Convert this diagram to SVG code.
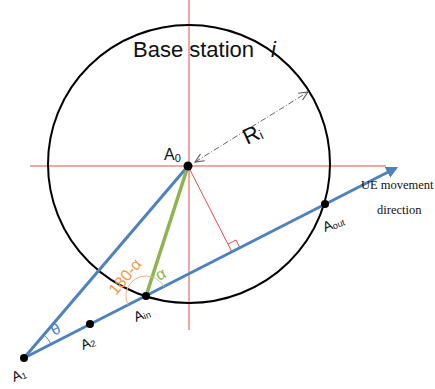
<svg xmlns="http://www.w3.org/2000/svg" width="435" height="389" viewBox="0 0 435 389">
<defs>
<style>
.red{stroke:#e0504a;stroke-width:1;fill:none}
.blue{stroke:#4f81bd;stroke-width:3;fill:none}
.green{stroke:#8db44f;stroke-width:3.5;fill:none}
.dot{fill:#000}
.lbl{font-family:"Liberation Sans",Arial,sans-serif;fill:#111}
</style>
<marker id="blueArrow" viewBox="0 0 10 10" refX="8" refY="5" markerWidth="4" markerHeight="4" orient="auto" markerUnits="strokeWidth">
<path d="M0,0 L10,5 L0,10 z" fill="#4f81bd"/>
</marker>
<marker id="openArrow" viewBox="0 0 10 10" refX="9" refY="5" markerWidth="10" markerHeight="10" orient="auto-start-reverse" markerUnits="userSpaceOnUse">
<path d="M0,1 L9,5 L0,9" fill="none" stroke="#555" stroke-width="1"/>
</marker>
</defs>
<rect width="435" height="389" fill="#fff"/>
<g id="connectors">
<line class="red" x1="189" y1="0" x2="189" y2="330"/>
<line class="red" x1="30" y1="166" x2="386" y2="166"/>
<ellipse id="circle" cx="189" cy="164" rx="141" ry="139" fill="none" stroke="#000" stroke-width="2"/>
<line class="red" x1="188" y1="166" x2="232" y2="252"/>
<path class="red" d="M240,248 L236,240 L228,244"/>
<line x1="195" y1="162" x2="308" y2="92" stroke="#666" stroke-width="1" stroke-dasharray="6,2,1,2" marker-start="url(#openArrow)" marker-end="url(#openArrow)"/>
<line class="blue" x1="24" y1="358" x2="396" y2="168" marker-end="url(#blueArrow)"/>
<line class="blue" x1="24" y1="358" x2="188" y2="166"/>
<line class="green" x1="146" y1="296" x2="188" y2="166"/>
<path d="M152,277 A20,20 0 0 0 128,305" fill="none" stroke="#f4b183" stroke-width="1"/>
<path d="M164,287 A20,20 0 0 0 152,277" fill="none" stroke="#a9d18e" stroke-width="1"/>
<path d="M44,335 A30,30 0 0 1 51,344" fill="none" stroke="#4f81bd" stroke-width="1"/>
</g>
<g id="A0"><circle class="dot" cx="188" cy="166" r="4.5"/><text class="lbl" x="164" y="160" font-size="16">A<tspan dy="2" font-size="11">0</tspan></text></g>
<g id="A1"><circle class="dot" cx="24" cy="358" r="4"/><text class="lbl" transform="translate(14,382) rotate(-22)" font-size="14">A<tspan font-size="9" dy="1">1</tspan></text></g>
<g id="A2"><circle class="dot" cx="90" cy="324" r="4"/><text class="lbl" transform="translate(83,350) rotate(-22)" font-size="14">A<tspan font-size="9" dy="1">2</tspan></text></g>
<g id="Ain"><circle class="dot" cx="146" cy="296" r="4"/><text class="lbl" transform="translate(136,322) rotate(-22)" font-size="14">A<tspan font-size="9" dy="1">in</tspan></text></g>
<g id="Aout"><circle class="dot" cx="325" cy="204" r="4"/><text class="lbl" transform="translate(325,232) rotate(-22)" font-size="14">A<tspan font-size="9" dy="1">out</tspan></text></g>
<g id="title"><text class="lbl" x="133" y="57" font-size="22">Base station</text><text x="271" y="57" font-size="22" font-family="Liberation Sans,Arial,sans-serif" font-style="italic" fill="#111">i</text></g>
<g id="Ri"><text class="lbl" transform="translate(247,145) rotate(-25)" font-size="22">R<tspan font-size="13" dy="1">i</tspan></text></g>
<g id="ue"><text font-family="Liberation Serif,serif" font-size="12.5" fill="#111" x="361" y="189">UE movement</text><text font-family="Liberation Serif,serif" font-size="12.5" fill="#111" x="377" y="214">direction</text></g>
<g id="angles">
<text class="lbl" transform="translate(116,296) rotate(-50)" font-size="16" style="fill:#f79646">180-α</text>
<text class="lbl" transform="translate(159,281) rotate(-27)" font-size="16" style="fill:#8db44f">α</text>
<text class="lbl" transform="translate(54,336) rotate(-27)" font-size="16" style="fill:#4f81bd">θ</text>
</g>
</svg>
